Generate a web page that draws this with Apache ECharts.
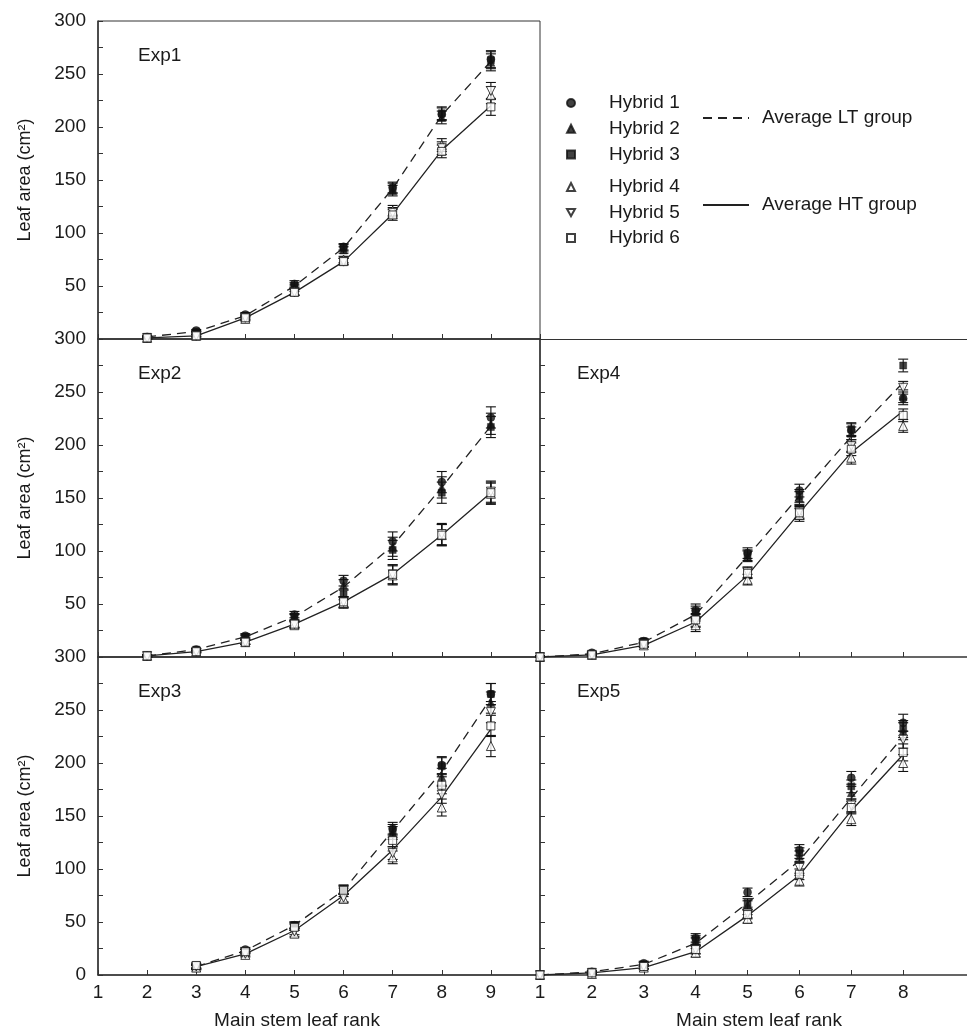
<!DOCTYPE html>
<html><head><meta charset="utf-8">
<script src="https://cdn.jsdelivr.net/npm/echarts@6/dist/echarts.min.js"></script>
<style>html,body{margin:0;padding:0;background:#fff;overflow:hidden}#c{width:967px;height:1033px}</style>
</head><body><div id="c"></div>
<script>
// ---- data (leaf area, cm2) ----
const xExp1 = [2, 3, 4, 5, 6, 7, 8, 9];
const xExp2 = [2, 3, 4, 5, 6, 7, 8, 9];
const xExp3 = [3, 4, 5, 6, 7, 8, 9];
const xExp4 = [1, 2, 3, 4, 5, 6, 7, 8];
const xExp5 = [1, 2, 3, 4, 5, 6, 7, 8];

const exp1_h1 = [2, 8, 23, 52, 87, 143, 212, 264];
const exp1_h2 = [1, 6, 21, 48, 84, 140, 209, 261];
const exp1_h3 = [2, 7, 22, 50, 86, 142, 213, 263];
const exp1_h4 = [1, 3, 19, 45, 75, 121, 183, 230];
const exp1_h5 = [1, 3, 20, 44, 73, 119, 180, 234];
const exp1_h6 = [1, 3, 20, 44, 73, 117, 177, 219];
const exp1_lt = [2, 7, 22, 50, 86, 142, 211, 262];
const exp1_ht = [1, 3, 20, 44, 73, 118, 178, 220];
const exp1_err = [1, 1, 2, 3, 3, 5, 6, 8];

const exp2_h1 = [1, 7, 20, 40, 72, 109, 165, 226];
const exp2_h2 = [1, 6, 18, 38, 68, 104, 160, 220];
const exp2_h3 = [1, 7, 19, 37, 59, 101, 155, 217];
const exp2_h4 = [1, 5, 14, 30, 51, 77, 115, 154];
const exp2_h5 = [1, 5, 14, 31, 52, 78, 116, 156];
const exp2_h6 = [1, 5, 14, 31, 52, 78, 115, 155];
const exp2_lt = [1, 7, 19, 38, 66, 105, 160, 218];
const exp2_ht = [1, 5, 14, 31, 52, 78, 115, 155];
const exp2_err = [1, 1, 2, 3, 5, 9, 10, 10];

const exp3_h1 = [8, 24, 47, 80, 138, 198, 265];
const exp3_h2 = [7, 22, 46, 78, 134, 187, 257];
const exp3_h3 = [8, 23, 47, 81, 136, 197, 265];
const exp3_h4 = [7, 19, 39, 72, 111, 158, 216];
const exp3_h5 = [8, 20, 41, 73, 115, 170, 248];
const exp3_h6 = [9, 22, 45, 80, 127, 179, 235];
const exp3_lt = [8, 23, 47, 80, 136, 192, 261];
const exp3_ht = [8, 20, 42, 75, 118, 168, 232];
const exp3_err = [2, 2, 3, 4, 6, 8, 10];

const exp4_h1 = [0, 4, 15, 44, 98, 157, 214, 244];
const exp4_h2 = [0, 3, 14, 40, 95, 150, 211, 246];
const exp4_h3 = [0, 3, 15, 42, 96, 152, 215, 275];
const exp4_h4 = [0, 2, 11, 30, 73, 134, 188, 218];
const exp4_h5 = [0, 2, 12, 34, 80, 137, 199, 254];
const exp4_h6 = [0, 2, 12, 35, 79, 136, 196, 228];
const exp4_lt = [0, 3, 14, 40, 95, 152, 208, 259];
const exp4_ht = [0, 2, 11, 33, 77, 136, 193, 232];
const exp4_err = [1, 1, 2, 6, 5, 6, 6, 6];

const exp5_h1 = [0, 3, 11, 35, 78, 118, 186, 238];
const exp5_h2 = [0, 2, 10, 31, 66, 112, 172, 230];
const exp5_h3 = [0, 3, 10, 33, 68, 115, 178, 232];
const exp5_h4 = [0, 1, 7, 21, 53, 89, 147, 200];
const exp5_h5 = [0, 2, 8, 24, 58, 101, 160, 222];
const exp5_h6 = [0, 2, 8, 24, 57, 95, 158, 210];
const exp5_lt = [0, 3, 10, 30, 68, 108, 167, 225];
const exp5_ht = [0, 2, 7, 22, 56, 94, 155, 208];
const exp5_err = [0, 1, 2, 4, 4, 5, 6, 8];

const hybridNames = ['Hybrid 1', 'Hybrid 2', 'Hybrid 3', 'Hybrid 4', 'Hybrid 5', 'Hybrid 6'];
const expNames = ['Exp1', 'Exp2', 'Exp3', 'Exp4', 'Exp5'];
const yTicks = [0, 50, 100, 150, 200, 250, 300];
const xTicksLeft = [1, 2, 3, 4, 5, 6, 7, 8, 9, 10];
const xLabelsLeft = [1, 2, 3, 4, 5, 6, 7, 8, 9];
const xTicksRight = [1, 2, 3, 4, 5, 6, 7, 8];

// ---- layout ----
const FONT = '"Liberation Sans", Arial, Helvetica, sans-serif';
const INK = '#1a1a1a';
const exps = [
  {x: xExp1, h: [exp1_h1, exp1_h2, exp1_h3, exp1_h4, exp1_h5, exp1_h6], lt: exp1_lt, ht: exp1_ht, err: exp1_err},
  {x: xExp2, h: [exp2_h1, exp2_h2, exp2_h3, exp2_h4, exp2_h5, exp2_h6], lt: exp2_lt, ht: exp2_ht, err: exp2_err},
  {x: xExp3, h: [exp3_h1, exp3_h2, exp3_h3, exp3_h4, exp3_h5, exp3_h6], lt: exp3_lt, ht: exp3_ht, err: exp3_err},
  {x: xExp4, h: [exp4_h1, exp4_h2, exp4_h3, exp4_h4, exp4_h5, exp4_h6], lt: exp4_lt, ht: exp4_ht, err: exp4_err},
  {x: xExp5, h: [exp5_h1, exp5_h2, exp5_h3, exp5_h4, exp5_h5, exp5_h6], lt: exp5_lt, ht: exp5_ht, err: exp5_err}
];
const L = 98, MID = 540, T0 = 21, PH = 318, RW = 450;
const grids = [
  {left: L, top: T0, width: MID - L, height: PH},
  {left: L, top: T0 + PH, width: MID - L, height: PH},
  {left: L, top: T0 + 2 * PH, width: MID - L, height: PH},
  {left: MID, top: T0 + PH, width: RW, height: PH},
  {left: MID, top: T0 + 2 * PH, width: RW, height: PH}
];
const isLeft = [true, true, true, false, false];
const showXLabel = [false, false, true, false, true];

const symbols = ['circle', 'triangle', 'rect', 'triangle', 'path://M0,0L10,0L5,9Z', 'rect'];
const filled = [true, true, true, false, false, false];
const sizes = [8, 8, 7, 9, 9, 8];

const axisLineStyle = {color: '#333', width: 1.5};

const xAxis = grids.map((g, i) => ({
  type: 'value', gridIndex: i, min: 1, max: isLeft[i] ? 10 : 9.23, interval: 1,
  axisLine: {show: true, onZero: false, lineStyle: axisLineStyle},
  axisTick: {show: true, inside: true, length: 5, lineStyle: {color: '#333', width: 1},
             customValues: isLeft[i] ? xTicksLeft : xTicksRight},
  splitLine: {show: false},
  axisLabel: {
    show: showXLabel[i], fontSize: 19, color: INK, fontFamily: FONT, margin: 8,
    customValues: isLeft[i] ? xLabelsLeft : xTicksRight
  }
}));
// top border line of the right-hand upper panel (Exp4)
xAxis.push({
  type: 'value', gridIndex: 3, position: 'top', min: 1, max: 9.23,
  axisLine: {show: true, onZero: false, lineStyle: {color: '#333', width: 1}},
  axisTick: {show: false}, axisLabel: {show: false}, splitLine: {show: false}
});

const yAxis = grids.map((g, i) => ({
  type: 'value', gridIndex: i, min: yTicks[0], max: yTicks[yTicks.length - 1], interval: 50,
  axisLine: {show: true, onZero: false, lineStyle: axisLineStyle},
  axisTick: {show: true, inside: true, length: 5, lineStyle: {color: '#333', width: 1}},
  minorTick: {show: true, splitNumber: 2, length: 5, lineStyle: {color: '#333', width: 1}},
  splitLine: {show: false}, minorSplitLine: {show: false},
  axisLabel: {
    show: isLeft[i], fontSize: 19, color: INK, fontFamily: FONT, margin: 12,
    showMinLabel: i === 2
  },
  name: isLeft[i] ? 'Leaf area (cm²)' : '',
  nameLocation: 'middle', nameGap: 64,
  nameTextStyle: {fontSize: 18, color: INK, fontFamily: FONT}
}));

const series = [];
exps.forEach((e, i) => {
  // error bars
  const eb = [];
  e.h.forEach(arr => arr.forEach((v, k) => eb.push([e.x[k], v, e.err[k]])));
  series.push({
    type: 'custom', xAxisIndex: i, yAxisIndex: i, z: 2, silent: true,
    data: eb, encode: {x: 0, y: 1},
    renderItem: (params, api) => {
      const x = api.value(0), y = api.value(1), er = api.value(2);
      if (!er) return null;
      const top = api.coord([x, y + er]);
      const bot = api.coord([x, Math.max(0, y - er)]);
      const hw = 5;
      const st = {stroke: '#111', lineWidth: 1.1};
      return {type: 'group', children: [
        {type: 'line', shape: {x1: top[0], y1: top[1], x2: bot[0], y2: bot[1]}, style: st},
        {type: 'line', shape: {x1: top[0] - hw, y1: top[1], x2: top[0] + hw, y2: top[1]}, style: st},
        {type: 'line', shape: {x1: bot[0] - hw, y1: bot[1], x2: bot[0] + hw, y2: bot[1]}, style: st}
      ]};
    }
  });
  // group average lines
  series.push({
    name: 'Average LT group', type: 'line', xAxisIndex: i, yAxisIndex: i, z: 3,
    symbol: 'none', silent: true,
    data: e.x.map((x, k) => [x, e.lt[k]]),
    lineStyle: {color: '#222', width: 1.3, type: [9, 6]}, itemStyle: {color: '#222'}
  });
  series.push({
    name: 'Average HT group', type: 'line', xAxisIndex: i, yAxisIndex: i, z: 3,
    symbol: 'none', silent: true,
    data: e.x.map((x, k) => [x, e.ht[k]]),
    lineStyle: {color: '#222', width: 1.3, type: 'solid'}, itemStyle: {color: '#222'}
  });
  // hybrids
  e.h.forEach((arr, j) => {
    series.push({
      name: hybridNames[j], type: 'scatter', xAxisIndex: i, yAxisIndex: i, z: 4,
      symbol: symbols[j], symbolSize: sizes[j], silent: true,
      data: arr.map((v, k) => [e.x[k], v]),
      itemStyle: filled[j]
        ? {color: '#111', borderColor: '#111', borderWidth: 0.5}
        : {color: '#fff', borderColor: '#111', borderWidth: 1}
    });
  });
});

const legendText = {fontSize: 19, color: INK, fontFamily: FONT, lineHeight: 20};
const hiddenSymbol = {color: 'rgba(0,0,0,0)', borderColor: 'rgba(0,0,0,0)', borderWidth: 0, opacity: 0};
const legend = [
  {data: hybridNames.slice(0, 3), orient: 'vertical', left: 566, top: 93, itemWidth: 8, itemHeight: 8,
   itemGap: 5.7, selectedMode: false, padding: 0, textStyle: Object.assign({padding: [0, 0, 0, 29]}, legendText)},
  {data: hybridNames.slice(3, 6), orient: 'vertical', left: 566, top: 177, itemWidth: 8, itemHeight: 8,
   itemGap: 5.5, selectedMode: false, padding: 0, textStyle: Object.assign({padding: [0, 0, 0, 29]}, legendText)},
  {data: ['Average LT group'], left: 702, top: 108, itemWidth: 46, itemHeight: 14, selectedMode: false,
   itemStyle: hiddenSymbol,
   padding: 0, textStyle: Object.assign({padding: [0, 0, 0, 8]}, legendText)},
  {data: ['Average HT group'], left: 702, top: 195, itemWidth: 46, itemHeight: 14, selectedMode: false,
   itemStyle: hiddenSymbol,
   padding: 0, textStyle: Object.assign({padding: [0, 0, 0, 8]}, legendText)}
];

const title = expNames.map((n, i) => ({
  text: n, left: grids[i].left + (isLeft[i] ? 40 : 37), top: grids[i].top + 25, padding: 0,
  textStyle: {fontSize: 19, fontWeight: 'normal', color: INK, fontFamily: FONT}
}));

const option = {
  animation: false,
  backgroundColor: '#fff',
  title: title,
  grid: grids.map((g, i) => Object.assign({show: isLeft[i], borderColor: '#333', borderWidth: 1, containLabel: false}, g)),
  xAxis: xAxis, yAxis: yAxis, legend: legend, series: series,
  graphic: [
    {type: 'text', x: 297, y: 1021, style: {text: 'Main stem leaf rank', textAlign: 'center', textVerticalAlign: 'middle', fontSize: 19, fontFamily: FONT, fill: INK}},
    {type: 'text', x: 759, y: 1021, style: {text: 'Main stem leaf rank', textAlign: 'center', textVerticalAlign: 'middle', fontSize: 19, fontFamily: FONT, fill: INK}}
  ]
};
const chart = echarts.init(document.getElementById('c'), null, {renderer: 'canvas'});
chart.setOption(option);
</script></body></html>
